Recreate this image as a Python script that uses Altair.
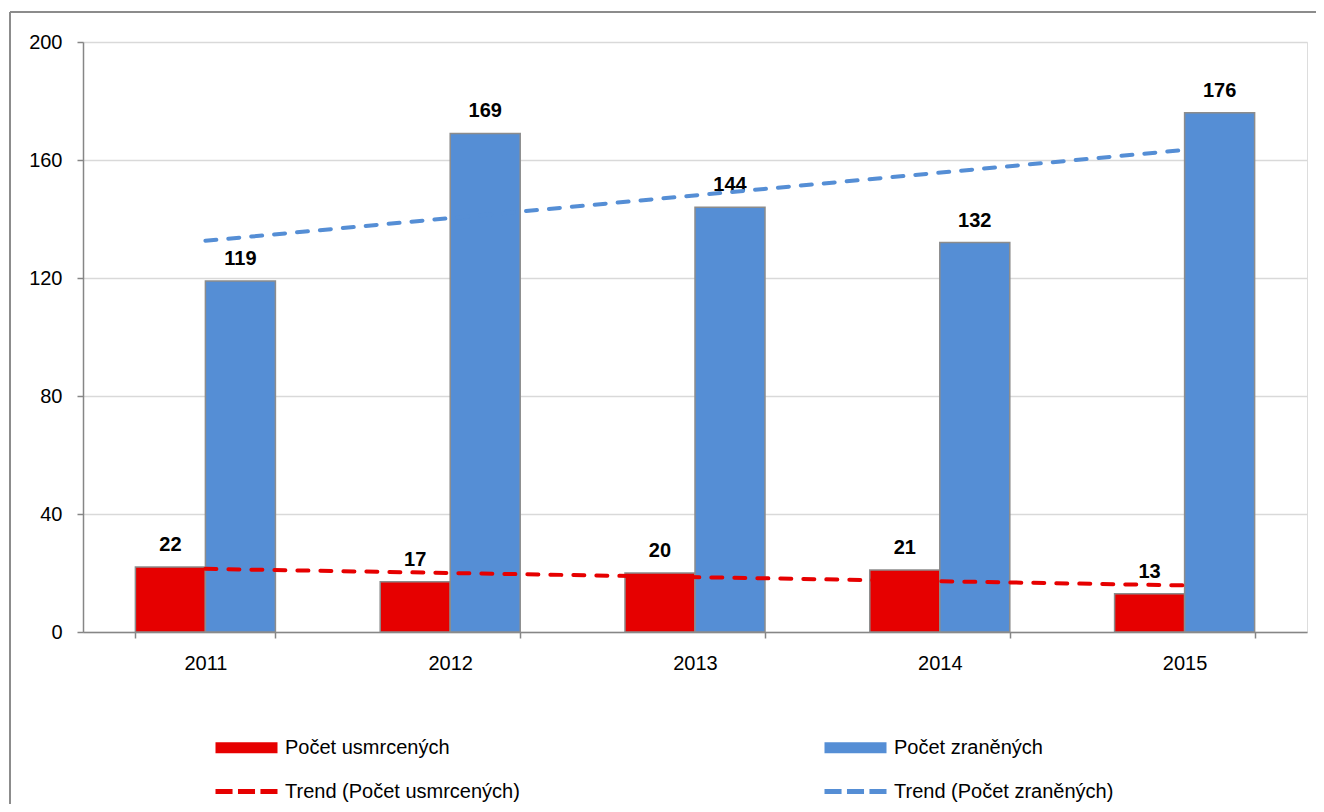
import altair as alt
import pandas as pd

years = [2011, 2012, 2013, 2014, 2015]
killed = [22, 17, 20, 21, 13]
injured = [119, 169, 144, 132, 176]

s_killed = "Počet usmrcených"
s_injured = "Počet zraněných"
t_killed = "Trend (Počet usmrcených)"
t_injured = "Trend (Počet zraněných)"

# legend entries are laid out column by column
series_order = [s_killed, t_killed, s_injured, t_injured]
colors = ["#E60000", "#E60000", "#558ED5", "#558ED5"]

bar_path = "M-2,-0.36H2V0.36H-2Z"
dash_path = ("M-2,-0.16H-0.9V0.16H-2Z "
             "M-0.55,-0.16H0.55V0.16H-0.55Z "
             "M0.9,-0.16H2V0.16H0.9Z")
shapes = [bar_path, dash_path, bar_path, dash_path]

rows = []
for y, k, i in zip(years, killed, injured):
    rows.append({"year": y, "series": s_killed, "value": k})
    rows.append({"year": y, "series": s_injured, "value": i})
df = pd.DataFrame(rows)

FONT = "Liberation Sans"

color_scale = alt.Scale(domain=series_order, range=colors)

x_enc = alt.X(
    "year:O",
    title=None,
    scale=alt.Scale(paddingInner=0.428, paddingOuter=0.214),
    axis=alt.Axis(
        labelAngle=0, labelFont=FONT, labelFontSize=20, labelColor="#000000",
        domainColor="#868686", domainWidth=1.5, tickColor="#868686", tickWidth=1.5,
        tickSize=6, tickBand="extent", labelPadding=15, grid=False,
    ),
)
y_enc = alt.Y(
    "value:Q",
    title=None,
    scale=alt.Scale(domain=[0, 200], nice=False),
    axis=alt.Axis(
        values=[0, 40, 80, 120, 160, 200], labelFont=FONT, labelFontSize=20,
        labelColor="#000000", domainColor="#868686", domainWidth=1.5,
        tickColor="#868686", tickWidth=1.5, tickSize=6, labelPadding=15,
        gridColor="#D9D9D9", gridWidth=1.5,
    ),
)

frame_df = pd.DataFrame({"a": [0]})
frame_top = alt.Chart(frame_df).mark_rule(stroke="#8C8C8C", strokeWidth=2).encode(
    x=alt.value(-73), x2=alt.value(1400), y=alt.value(-30)
)
frame_left = alt.Chart(frame_df).mark_rule(stroke="#8C8C8C", strokeWidth=2).encode(
    x=alt.value(-73), y=alt.value(-30), y2=alt.value(900)
)

bars = alt.Chart(df).mark_bar(stroke="#8C8C8C", strokeWidth=1.5).encode(
    x=x_enc,
    xOffset=alt.XOffset("series:N", sort=[s_killed, s_injured],
                        scale=alt.Scale(paddingInner=0, paddingOuter=0)),
    y=y_enc,
    color=alt.Color("series:N", scale=color_scale),
)

labels = alt.Chart(df).mark_text(
    font=FONT, fontSize=20, fontWeight="bold", color="#000000",
    baseline="bottom", dy=-12,
).encode(
    x=alt.X("year:O"),
    xOffset=alt.XOffset("series:N", sort=[s_killed, s_injured]),
    y=alt.Y("value:Q"),
    text=alt.Text("value:Q"),
)

trend = alt.Chart(df).transform_regression(
    "year", "value", groupby=["series"], method="linear"
).transform_calculate(
    series="'Trend (' + datum.series + ')'"
).mark_line(strokeDash=[11, 12], strokeWidth=4, strokeCap="round").encode(
    x=alt.X("year:O", bandPosition=0.5),
    y=alt.Y("value:Q"),
    color=alt.Color("series:N", scale=color_scale),
)

legend_df = pd.DataFrame({"series": series_order})
legend_layer = alt.Chart(legend_df).mark_point(filled=True, opacity=0).encode(
    color=alt.Color(
        "series:N", scale=color_scale, title=None,
        legend=alt.Legend(
            orient="none", legendX=148, legendY=690, columns=2,
            columnPadding=304, rowPadding=18, symbolSize=961,
            symbolStrokeWidth=0, symbolOpacity=1, labelOffset=23,
            labelFont=FONT, labelFontSize=20, labelColor="#000000",
            labelLimit=400, title=None,
        ),
    ),
    shape=alt.Shape("series:N", scale=alt.Scale(domain=series_order, range=shapes),
                    title=None),
)

chart = alt.layer(frame_top, frame_left, bars, labels, trend, legend_layer).resolve_scale(
    color="shared"
).properties(
    width=1224, height=590,
    autosize=alt.AutoSizeParams(type="none"),
    padding={"left": 75, "top": 34, "right": 9, "bottom": 172},
).configure_view(stroke="transparent").configure(background="#FFFFFF")

chart.save("out.html", embed_options={"renderer": "svg", "actions": False})
